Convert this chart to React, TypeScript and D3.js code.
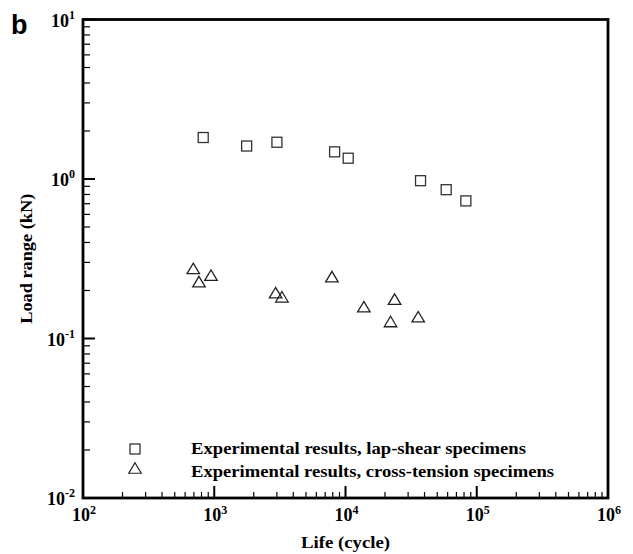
import React from "react";
import * as d3 from "d3";

const lapLife = [824, 1765, 3003, 8260, 10485, 37300, 58500, 82600];
const lapLoad = [1.82, 1.61, 1.70, 1.48, 1.35, 0.976, 0.857, 0.729];
const crossLife = [692, 765, 944, 2935, 3278, 7880, 13800, 23660, 22040, 35800];
const crossLoad = [0.271, 0.224, 0.246, 0.191, 0.180, 0.241, 0.156, 0.174, 0.126, 0.135];
const xMajor = [2, 3, 4, 5, 6];
const yMajor = [-2, -1, 0, 1];
const legendLabels = [
  "Experimental results, lap-shear specimens",
  "Experimental results, cross-tension specimens",
];
const xTitle = "Life (cycle)";
const yTitle = "Load range (kN)";
const panelLabel = "b";

const W = 633, H = 554;
const L = 83, R = 608, T = 19.5, B = 498;
const serif = "'Liberation Serif', 'Times New Roman', serif";

export default function App() {
  const x = d3.scaleLog().domain([1e2, 1e6]).range([L, R]);
  const y = d3.scaleLog().domain([1e-2, 1e1]).range([B, T]);
  const xMinor: number[] = [];
  for (let e = 2; e < 6; e++) for (let m = 2; m <= 9; m++) xMinor.push(m * Math.pow(10, e));
  const yMinor: number[] = [];
  for (let e = -2; e < 1; e++) for (let m = 2; m <= 9; m++) yMinor.push(m * Math.pow(10, e));
  const sq = 10;
  const tri = (cx: number, cy: number) => {
    const h = 10.5, w = 12.5;
    return `M${cx},${cy - h / 2 - 1}L${cx + w / 2},${cy + h / 2 - 1}L${cx - w / 2},${cy + h / 2 - 1}Z`;
  };
  const legendLens = [335, 363];
  return (
    <svg width={W} height={H} style={{ position: "absolute", left: 0, top: 0 }} fontFamily={serif}>
      <rect width={W} height={H} fill="#fff" />
      <text x={11} y={34} fontFamily="'Liberation Sans', Arial, sans-serif" fontWeight="bold" fontSize={27}>{panelLabel}</text>
      {xMinor.map((v, i) => (
        <line key={"xm" + i} x1={x(v)} x2={x(v)} y1={B} y2={B - 6} stroke="#000" strokeWidth={1.2} />
      ))}
      {xMajor.map((e) => (
        <line key={"xM" + e} x1={x(Math.pow(10, e))} x2={x(Math.pow(10, e))} y1={B} y2={B - 12} stroke="#000" strokeWidth={2} />
      ))}
      {yMinor.map((v, i) => (
        <line key={"ym" + i} x1={L} x2={L + 7} y1={y(v)} y2={y(v)} stroke="#000" strokeWidth={1.2} />
      ))}
      {yMajor.map((e) => (
        <line key={"yM" + e} x1={L} x2={L + 12} y1={y(Math.pow(10, e))} y2={y(Math.pow(10, e))} stroke="#000" strokeWidth={2} />
      ))}
      <rect x={L} y={T} width={R - L} height={B - T} fill="none" stroke="#000" strokeWidth={2.8} />
      {xMajor.map((e) => (
        <text key={"xl" + e} x={x(Math.pow(10, e)) + 1} y={521} textAnchor="middle" fontWeight="bold" fontSize={18}>
          10<tspan fontSize={12} dy={-7}>{e}</tspan>
        </text>
      ))}
      {yMajor.map((e) => (
        <text key={"yl" + e} x={75} y={y(Math.pow(10, e)) + 7} textAnchor="end" fontWeight="bold" fontSize={18}>
          10<tspan fontSize={12} dy={-8}>{e}</tspan>
        </text>
      ))}
      <text x={345.5} y={548} textAnchor="middle" fontWeight="bold" fontSize={17} textLength={89} lengthAdjust="spacingAndGlyphs">{xTitle}</text>
      <text transform={`translate(32,${(T + B) / 2}) rotate(-90)`} textAnchor="middle" fontWeight="bold" fontSize={17} textLength={130} lengthAdjust="spacingAndGlyphs">{yTitle}</text>
      {lapLife.map((v, i) => (
        <rect key={"s" + i} x={x(v) - sq / 2} y={y(lapLoad[i]) - sq / 2} width={sq} height={sq} fill="none" stroke="#333" strokeWidth={1.3} />
      ))}
      {crossLife.map((v, i) => (
        <path key={"t" + i} d={tri(x(v), y(crossLoad[i]))} fill="none" stroke="#222" strokeWidth={1.3} />
      ))}
      <rect x={135 - sq / 2} y={449 - sq / 2} width={sq} height={sq} fill="none" stroke="#222" strokeWidth={1.2} />
      <path d={tri(135, 469)} fill="none" stroke="#222" strokeWidth={1.2} />
      {legendLabels.map((t, i) => (
        <text key={"lg" + i} x={191} y={454} fontWeight="bold" fontSize={17} textLength={legendLens[i]} lengthAdjust="spacingAndGlyphs" dy={i * 22.5}>{t}</text>
      ))}
    </svg>
  );
}
